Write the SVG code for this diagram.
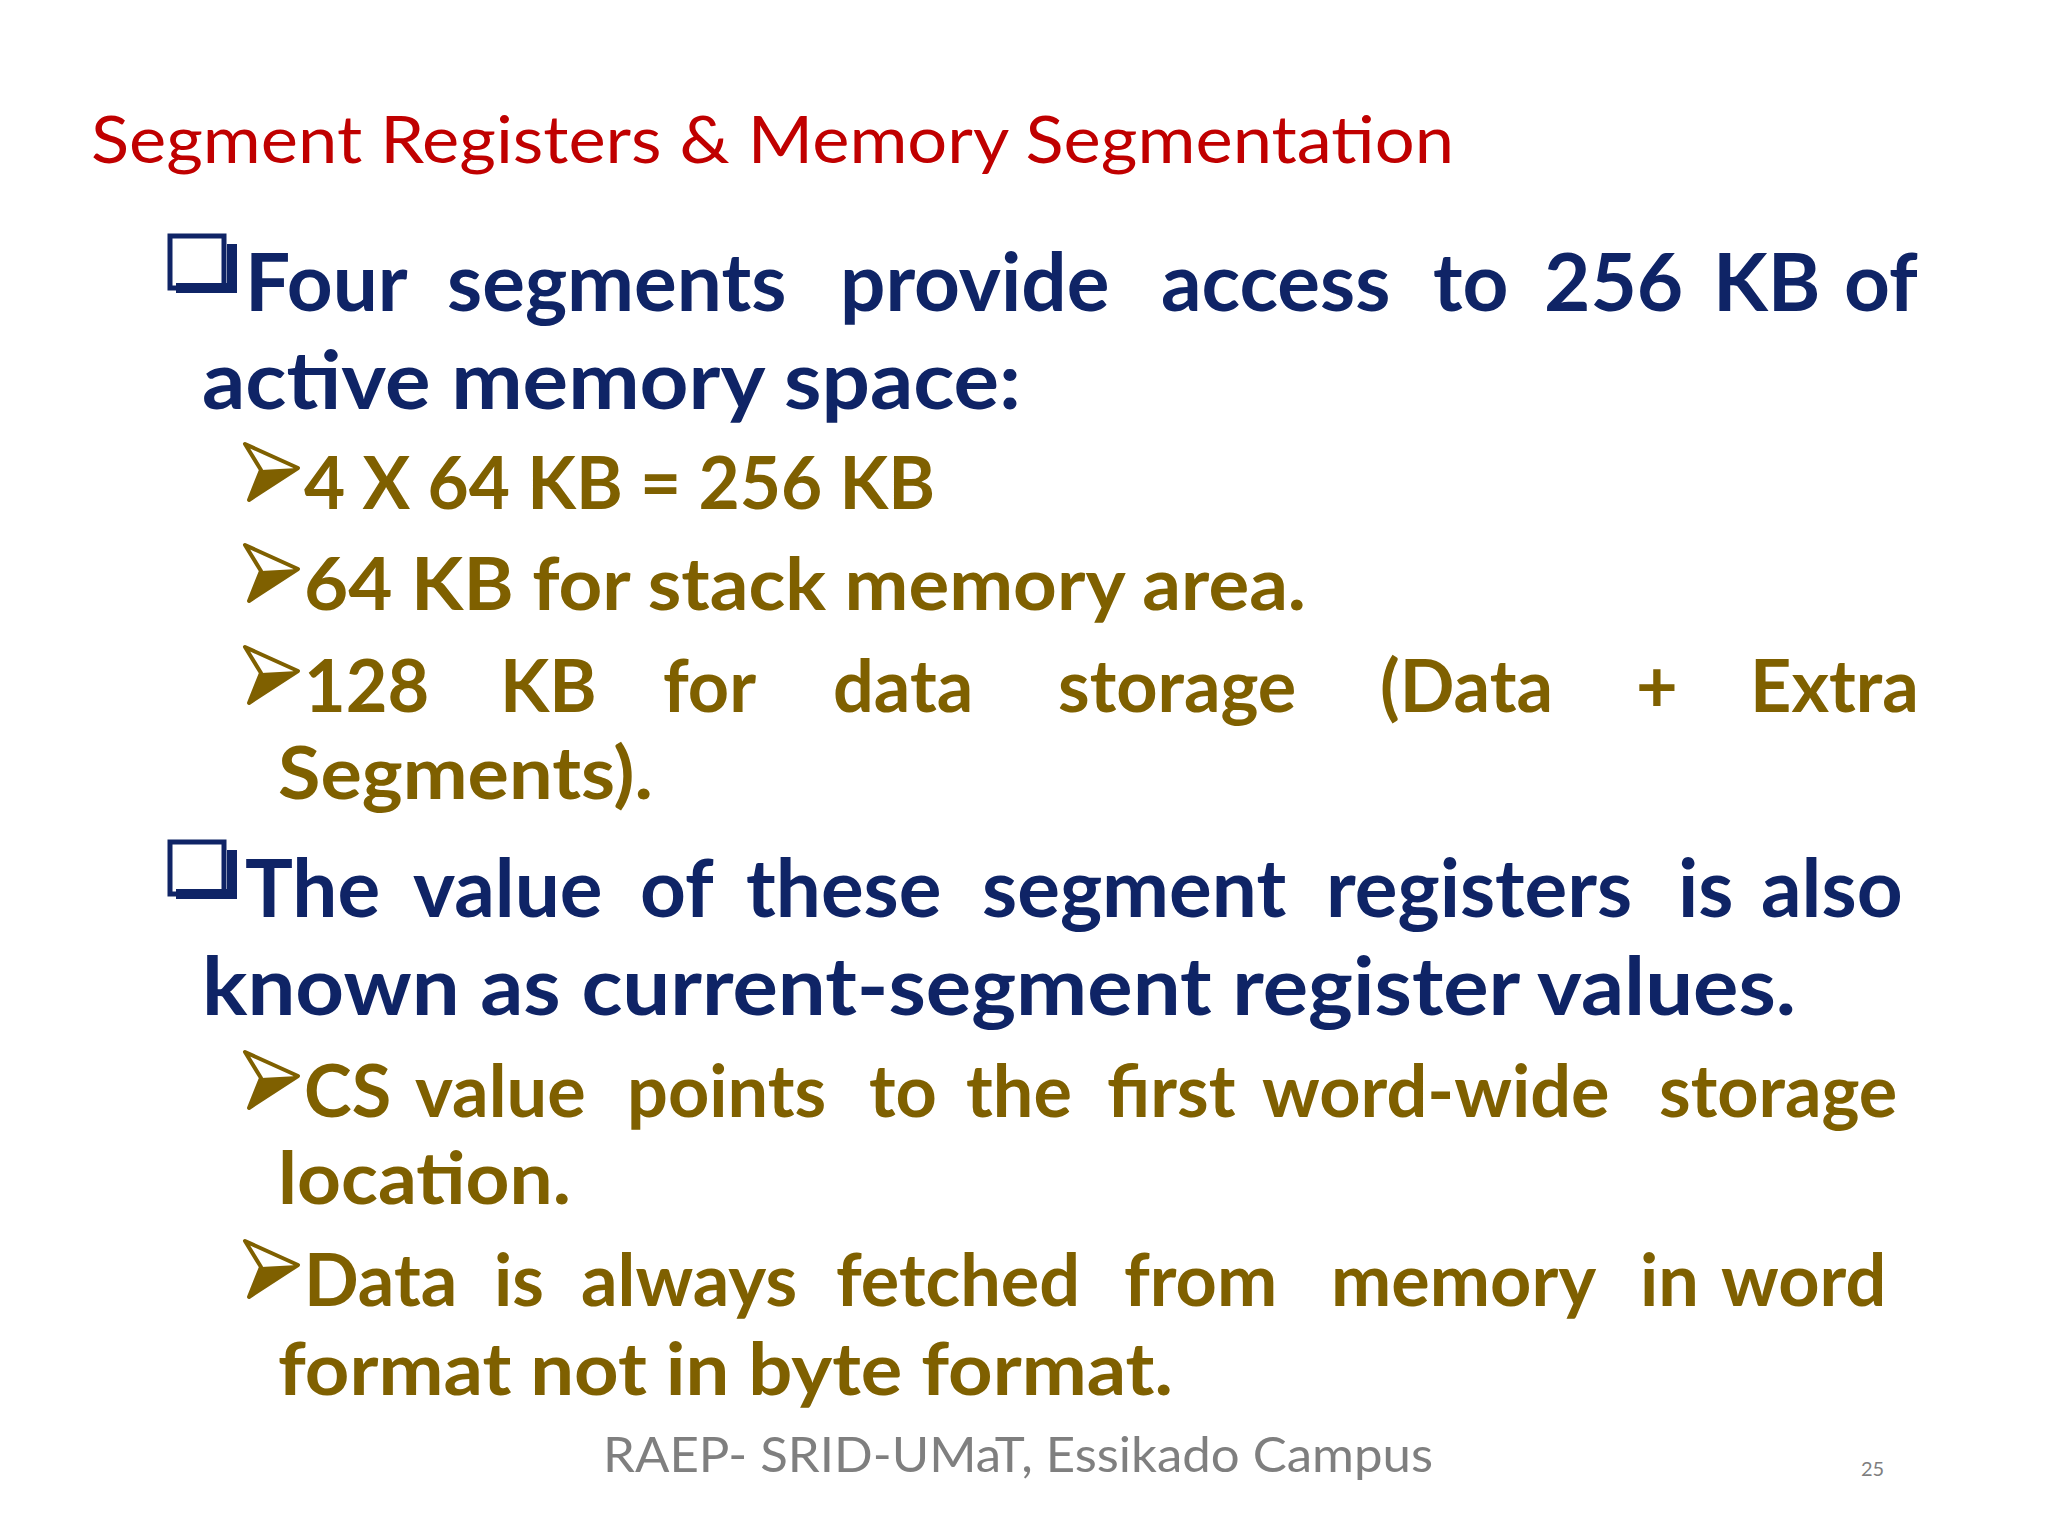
<svg xmlns="http://www.w3.org/2000/svg" width="2048" height="1536" viewBox="0 0 2048 1536">
<style>
.t{font-family:Lato,"Liberation Sans",sans-serif;font-size:66px;fill:#C00000}
.n{font-family:Lato,"Liberation Sans",sans-serif;font-weight:bold;font-size:80px;fill:#0F2466}
.o{font-family:Lato,"Liberation Sans",sans-serif;font-weight:bold;font-size:72px;fill:#7F6000}
.f{font-family:Lato,"Liberation Sans",sans-serif;font-size:48px;fill:#7F7F7F}
.p{font-family:Lato,"Liberation Sans",sans-serif;font-size:20px;fill:#7F7F7F}
</style>
<defs>
<g id="arr"><path d="M0,0 L53,24 L4,56 L16,26 Z" fill="none" stroke="#7F6000" stroke-width="4" stroke-linejoin="round"/><path d="M16,26 L53,24 L4,56 Z" fill="#7F6000"/></g>
<g id="sq"><rect x="0" y="0" width="54" height="52" fill="none" stroke="#0F2466" stroke-width="5"/><path d="M6,52 H62 V8" fill="none" stroke="#0F2466" stroke-width="10"/></g>
</defs>
<rect width="2048" height="1536" fill="#fff"/>
<text class="t" x="91" y="163" textLength="1363" lengthAdjust="spacingAndGlyphs">Segment Registers &amp; Memory Segmentation</text>
<use href="#sq" x="170" y="236"/>
<text class="n" y="311"><tspan x="245">Four</tspan><tspan x="447">segments</tspan><tspan x="840">provide</tspan><tspan x="1161">access</tspan><tspan x="1433">to</tspan><tspan x="1544">256</tspan><tspan x="1713">KB</tspan><tspan x="1844">of</tspan></text>
<text class="n" x="202" y="409" textLength="819" lengthAdjust="spacingAndGlyphs">active memory space:</text>
<use href="#arr" x="245" y="444"/>
<text class="o" x="304" y="509" textLength="631" lengthAdjust="spacingAndGlyphs">4 X 64 KB = 256 KB</text>
<use href="#arr" x="245" y="545"/>
<text class="o" x="304" y="610" textLength="1002" lengthAdjust="spacingAndGlyphs">64 KB for stack memory area.</text>
<use href="#arr" x="245" y="647"/>
<text class="o" y="712"><tspan x="304">128</tspan><tspan x="500">KB</tspan><tspan x="663">for</tspan><tspan x="833">data</tspan><tspan x="1058">storage</tspan><tspan x="1380">(Data</tspan><tspan x="1636">+</tspan><tspan x="1750">Extra</tspan></text>
<text class="o" x="278" y="799" textLength="375" lengthAdjust="spacingAndGlyphs">Segments).</text>
<use href="#sq" x="170" y="842"/>
<text class="n" y="917"><tspan x="245">The</tspan><tspan x="413">value</tspan><tspan x="640">of</tspan><tspan x="746">these</tspan><tspan x="982">segment</tspan><tspan x="1326">registers</tspan><tspan x="1678">is</tspan><tspan x="1761">also</tspan></text>
<text class="n" x="202" y="1015" textLength="1594" lengthAdjust="spacingAndGlyphs">known as current-segment register values.</text>
<use href="#arr" x="245" y="1052"/>
<text class="o" y="1117"><tspan x="304">CS</tspan><tspan x="415">value</tspan><tspan x="627">points</tspan><tspan x="869">to</tspan><tspan x="966">the</tspan><tspan x="1107">first</tspan><tspan x="1262">word-wide</tspan><tspan x="1659">storage</tspan></text>
<text class="o" x="278" y="1204" textLength="293" lengthAdjust="spacingAndGlyphs">location.</text>
<use href="#arr" x="245" y="1241"/>
<text class="o" y="1306"><tspan x="304">Data</tspan><tspan x="494">is</tspan><tspan x="581">always</tspan><tspan x="836">fetched</tspan><tspan x="1124">from</tspan><tspan x="1331">memory</tspan><tspan x="1640">in</tspan><tspan x="1721">word</tspan></text>
<text class="o" x="278" y="1395" textLength="895" lengthAdjust="spacingAndGlyphs">format not in byte format.</text>
<text class="f" x="603" y="1472" textLength="830" lengthAdjust="spacingAndGlyphs">RAEP- SRID-UMaT, Essikado Campus</text>
<text class="p" x="1861" y="1476">25</text>
</svg>
